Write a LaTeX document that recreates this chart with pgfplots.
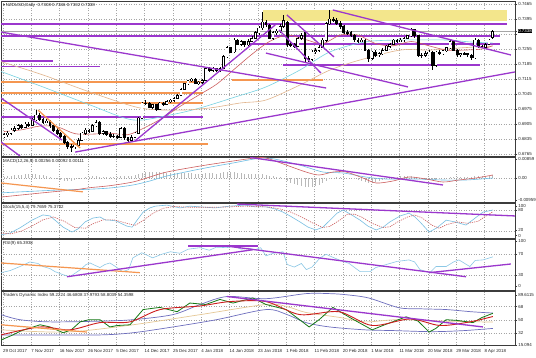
\documentclass[border=0pt]{standalone}
\usepackage{pgfplots}
\pgfplotsset{compat=1.18}
\usepackage{pgfplotstable}
\usepackage{fontspec}
\setmainfont{Liberation Sans}
\setsansfont{Liberation Sans}
\newfontfamily\symfont{DejaVu Sans}

\definecolor{purp}{RGB}{155,55,205}
\definecolor{orng}{RGB}{245,150,80}
\definecolor{zone}{RGB}{243,230,140}
\definecolor{maCyan}{RGB}{120,210,225}
\definecolor{maTan}{RGB}{225,180,140}
\definecolor{maRed}{RGB}{205,95,95}
\definecolor{gridc}{RGB}{165,165,165}
\definecolor{frame}{RGB}{60,60,60}
\definecolor{tdiBand}{RGB}{110,110,190}
\definecolor{tdiMid}{RGB}{230,200,150}
\definecolor{tdiGreen}{RGB}{20,120,20}
\definecolor{tdiRed}{RGB}{205,30,30}
\definecolor{histc}{RGB}{185,185,185}
\definecolor{stochc}{RGB}{120,190,225}
\definecolor{rsic}{RGB}{140,200,230}

\pgfplotstableread{
i o h l c
0 0.6848 0.6862 0.6838 0.6854
1 0.6854 0.6872 0.6846 0.6863
2 0.6863 0.6885 0.6855 0.6877
3 0.6877 0.6895 0.6868 0.6886
4 0.6886 0.6905 0.6878 0.6896
5 0.6896 0.6906 0.6882 0.6891
6 0.6891 0.6914 0.6885 0.6905
7 0.6905 0.6916 0.6893 0.6900
8 0.6900 0.6935 0.6895 0.6924
9 0.6924 0.6970 0.6918 0.6947
10 0.6947 0.6955 0.6917 0.6924
11 0.6924 0.6932 0.6905 0.6914
12 0.6914 0.6930 0.6908 0.6919
13 0.6919 0.6925 0.6888 0.6896
14 0.6896 0.6902 0.6870 0.6877
15 0.6877 0.6885 0.6855 0.6863
16 0.6863 0.6870 0.6842 0.6849
17 0.6849 0.6855 0.6812 0.6821
18 0.6821 0.6828 0.6790 0.6802
19 0.6802 0.6812 0.6774 0.6798
20 0.6798 0.6815 0.6790 0.6807
21 0.6807 0.6838 0.6800 0.6830
22 0.6830 0.6870 0.6825 0.6863
23 0.6863 0.6885 0.6855 0.6877
24 0.6877 0.6884 0.6865 0.6872
25 0.6872 0.6903 0.6866 0.6896
26 0.6896 0.6924 0.6890 0.6914
27 0.6914 0.6918 0.6856 0.6863
28 0.6863 0.6875 0.6852 0.6868
29 0.6868 0.6874 0.6850 0.6858
30 0.6858 0.6866 0.6842 0.6849
31 0.6849 0.6858 0.6840 0.6849
32 0.6849 0.6855 0.6836 0.6844
33 0.6844 0.6893 0.6840 0.6886
34 0.6886 0.6890 0.6832 0.6840
35 0.6840 0.6846 0.6818 0.6830
36 0.6830 0.6852 0.6822 0.6844
37 0.6844 0.6870 0.6838 0.6863
38 0.6863 0.6940 0.6858 0.6933
39 0.6933 0.7010 0.6928 0.7003
40 0.7003 0.7015 0.6993 0.7003
41 0.7003 0.7010 0.6978 0.6984
42 0.6984 0.7000 0.6976 0.6994
43 0.6994 0.7000 0.6968 0.6975
44 0.6975 0.7010 0.6970 0.7003
45 0.7003 0.7010 0.6990 0.6998
46 0.6998 0.7018 0.6992 0.7012
47 0.7012 0.7024 0.7005 0.7017
48 0.7017 0.7032 0.7010 0.7026
49 0.7026 0.7046 0.7020 0.7040
50 0.7040 0.7075 0.7035 0.7068
51 0.7068 0.7098 0.7062 0.7092
52 0.7092 0.7112 0.7085 0.7106
53 0.7106 0.7122 0.7100 0.7115
54 0.7115 0.7120 0.7090 0.7096
55 0.7096 0.7108 0.7088 0.7101
56 0.7101 0.7116 0.7094 0.7110
57 0.7110 0.7168 0.7105 0.7162
58 0.7162 0.7172 0.7150 0.7157
59 0.7157 0.7170 0.7150 0.7162
60 0.7162 0.7168 0.7148 0.7157
61 0.7157 0.7172 0.7150 0.7166
62 0.7166 0.7225 0.7160 0.7218
63 0.7218 0.7268 0.7212 0.7260
64 0.7260 0.7266 0.7235 0.7241
65 0.7241 0.7305 0.7236 0.7297
66 0.7297 0.7304 0.7272 0.7278
67 0.7278 0.7296 0.7270 0.7288
68 0.7288 0.7294 0.7266 0.7274
69 0.7274 0.7300 0.7268 0.7292
70 0.7292 0.7315 0.7286 0.7306
71 0.7306 0.7338 0.7300 0.7330
72 0.7330 0.7362 0.7322 0.7353
73 0.7353 0.7428 0.7345 0.7381
74 0.7381 0.7392 0.7360 0.7367
75 0.7367 0.7372 0.7300 0.7306
76 0.7306 0.7338 0.7298 0.7330
77 0.7330 0.7348 0.7322 0.7339
78 0.7339 0.7370 0.7332 0.7362
79 0.7362 0.7414 0.7355 0.7390
80 0.7381 0.7388 0.7265 0.7274
81 0.7274 0.7290 0.7266 0.7278
82 0.7278 0.7285 0.7260 0.7269
83 0.7269 0.7312 0.7264 0.7306
84 0.7306 0.7330 0.7298 0.7320
85 0.7330 0.7336 0.7194 0.7213
86 0.7213 0.7222 0.7194 0.7208
87 0.7208 0.7250 0.7200 0.7241
88 0.7241 0.7258 0.7234 0.7250
89 0.7250 0.7272 0.7242 0.7264
90 0.7264 0.7305 0.7258 0.7297
91 0.7297 0.7380 0.7290 0.7372
92 0.7372 0.7437 0.7366 0.7395
93 0.7395 0.7405 0.7380 0.7390
94 0.7390 0.7398 0.7368 0.7376
95 0.7376 0.7384 0.7350 0.7358
96 0.7358 0.7365 0.7326 0.7334
97 0.7334 0.7342 0.7322 0.7330
98 0.7330 0.7338 0.7312 0.7320
99 0.7320 0.7326 0.7290 0.7297
100 0.7297 0.7305 0.7285 0.7292
101 0.7292 0.7306 0.7286 0.7297
102 0.7297 0.7302 0.7244 0.7250
103 0.7250 0.7256 0.7194 0.7213
104 0.7213 0.7248 0.7206 0.7241
105 0.7241 0.7250 0.7220 0.7227
106 0.7227 0.7240 0.7220 0.7232
107 0.7232 0.7258 0.7226 0.7250
108 0.7250 0.7276 0.7244 0.7269
109 0.7269 0.7285 0.7262 0.7278
110 0.7278 0.7304 0.7272 0.7297
111 0.7297 0.7302 0.7284 0.7292
112 0.7292 0.7305 0.7286 0.7297
113 0.7297 0.7312 0.7290 0.7306
114 0.7306 0.7322 0.7300 0.7316
115 0.7316 0.7353 0.7310 0.7344
116 0.7344 0.7350 0.7308 0.7316
117 0.7316 0.7322 0.7220 0.7227
118 0.7227 0.7236 0.7215 0.7227
119 0.7227 0.7244 0.7220 0.7236
120 0.7236 0.7250 0.7230 0.7241
121 0.7241 0.7246 0.7157 0.7180
122 0.7180 0.7248 0.7172 0.7241
123 0.7241 0.7250 0.7225 0.7232
124 0.7232 0.7252 0.7226 0.7246
125 0.7246 0.7266 0.7240 0.7260
126 0.7260 0.7296 0.7254 0.7288
127 0.7288 0.7294 0.7244 0.7250
128 0.7250 0.7256 0.7220 0.7227
129 0.7227 0.7238 0.7220 0.7232
130 0.7232 0.7240 0.7225 0.7232
131 0.7232 0.7238 0.7220 0.7227
132 0.7227 0.7232 0.7205 0.7213
133 0.7213 0.7305 0.7208 0.7297
134 0.7297 0.7302 0.7262 0.7269
135 0.7269 0.7276 0.7258 0.7264
136 0.7264 0.7284 0.7258 0.7278
137 0.7278 0.7304 0.7272 0.7297
138 0.7308 0.7346 0.7302 0.7338
}\candles

\pgfplotstableread{
i v
0 0.0004
1 0.0008
2 0.0008
3 0.0012
4 0.0012
5 0.0012
6 0.0016
7 0.0016
8 0.0016
9 0.0016
10 0.0012
11 0.0012
12 0.0008
13 0.0004
14 0.0000
15 -0.0004
16 -0.0008
17 -0.0012
18 -0.0012
19 -0.0012
20 -0.0008
21 -0.0004
22 0.0000
23 0.0004
24 0.0004
25 0.0008
26 0.0008
27 0.0004
28 0.0004
29 0.0004
30 0.0004
31 0.0004
32 0.0004
33 0.0008
34 0.0008
35 0.0008
36 0.0008
37 0.0012
38 0.0016
39 0.0020
40 0.0024
41 0.0024
42 0.0024
43 0.0024
44 0.0024
45 0.0024
46 0.0020
47 0.0020
48 0.0020
49 0.0020
50 0.0020
51 0.0020
52 0.0020
53 0.0020
54 0.0016
55 0.0016
56 0.0016
57 0.0020
58 0.0020
59 0.0020
60 0.0016
61 0.0020
62 0.0024
63 0.0024
64 0.0024
65 0.0024
66 0.0020
67 0.0020
68 0.0016
69 0.0016
70 0.0016
71 0.0016
72 0.0016
73 0.0016
74 0.0012
75 0.0008
76 0.0008
77 0.0004
78 0.0004
79 0.0000
80 -0.0012
81 -0.0020
82 -0.0024
83 -0.0028
84 -0.0032
85 -0.0036
86 -0.0036
87 -0.0036
88 -0.0032
89 -0.0028
90 -0.0020
91 -0.0012
92 -0.0004
93 0.0000
94 0.0004
95 0.0004
96 0.0004
97 0.0000
98 0.0000
99 -0.0004
100 -0.0008
101 -0.0012
102 -0.0016
103 -0.0020
104 -0.0020
105 -0.0016
106 -0.0012
107 -0.0008
108 -0.0004
109 0.0000
110 0.0004
111 0.0004
112 0.0008
113 0.0008
114 0.0008
115 0.0008
116 0.0004
117 0.0000
118 -0.0004
119 -0.0008
120 -0.0008
121 -0.0008
122 -0.0008
123 -0.0004
124 0.0000
125 0.0000
126 0.0004
127 0.0004
128 0.0004
129 0.0004
130 0.0004
131 0.0004
132 0.0004
133 0.0008
134 0.0008
135 0.0008
136 0.0008
137 0.0008
138 0.0012
}\macdhist

\pgfplotsset{
  panel/.style={
    scale only axis, width=514bp,
    xmin=-0.85, xmax=144.35,
    axis line style={frame, line width=0.9bp},
    xtick={-0.3,7.7,15.7,23.7,31.7,39.7,47.7,55.7,63.7,71.7,79.7,87.7,95.7,103.7,111.7,119.7,127.7,135.7},
    xticklabels={},
    xmajorgrids,
    major grid style={gridc, line width=0.4bp, dash pattern=on 1bp off 1.5bp},
    xtick style={draw=none},
    ytick pos=right, yticklabel pos=right,
    ytick style={frame, line width=0.4bp},
    major tick length=2bp, tick align=outside,
    tick label style={font=\fontsize{4.4}{5}\selectfont, text=black!85},
    yticklabel style={inner sep=0.6bp, xshift=0.6bp},
    scaled y ticks=false, scaled x ticks=false,
    /pgf/number format/assume math mode=true,
  },
  lvl/.style={line width=1.5bp},
  tl/.style={line width=1.3bp, purp},
}
\tikzset{ttl/.style={anchor=north west, inner sep=0pt, font=\fontsize{4.4}{5}\selectfont, text=black!85}}

\begin{document}
\begin{tikzpicture}
\useasboundingbox (0,0) rectangle (536bp,-358bp);
\fill[white] (0,0) rectangle (536bp,-358bp);

% ===================== MAIN PRICE PANEL =====================
\begin{axis}[panel, at={(1bp,-1bp)}, anchor=north west, height=155bp,
  ymin=0.67557, ymax=0.74790, ymajorgrids,
  ytick={0.6765,0.6835,0.6905,0.6975,0.7045,0.7115,0.7185,0.7255,0.7325,0.7395,0.7465},
  yticklabels={0.6765,0.6835,0.6905,0.6975,0.7045,0.7115,0.7185,0.7255,,0.7395,0.7465},
  extra y ticks={0.7338}, extra y tick labels={0.7338},
  extra y tick style={grid=none, yticklabel style={fill=black, text=white, inner sep=0.5bp}},
]
\addplot[fill=zone, draw=none] coordinates {(73.2,0.7435) (142.1,0.7435) (142.1,0.7385) (73.2,0.7385)} --cycle;
\addplot[gray!70, line width=0.5bp] coordinates {(-0.85,0.7338) (144.35,0.7338)};
\addplot[purp, lvl] coordinates {(-0.85,0.7372) (142.1,0.7372)};
\addplot[purp, lvl] coordinates {(-0.85,0.7316) (140.1,0.7316)};
\addplot[purp, lvl] coordinates {(69.5,0.7278) (140.1,0.7278)};
\addplot[purp, lvl] coordinates {(78.8,0.7180) (134.5,0.7180)};
\addplot[purp, lvl] coordinates {(-0.85,0.7199) (13.8,0.7199)};
\addplot[purp, lvl] coordinates {(-0.85,0.7174) (27.1,0.7174)};
\addplot[orng, lvl] coordinates {(-0.85,0.7101) (56.2,0.7101)};
\addplot[orng, lvl] coordinates {(-0.85,0.7050) (56.2,0.7050)};
\addplot[orng, lvl] coordinates {(-0.85,0.7003) (56.2,0.7003)};
\addplot[purp, lvl] coordinates {(-0.85,0.6938) (56.2,0.6938)};
\addplot[orng, lvl] coordinates {(-0.85,0.6812) (57.6,0.6812)};
\addplot[orng, lvl] coordinates {(64.4,0.7110) (90.1,0.7110)};
\addplot[maCyan, line width=0.6bp, smooth] coordinates {(-0.85,0.7150) (11,0.7078) (24.3,0.6994) (36.4,0.6924) (46.9,0.6947) (55.4,0.6980) (65.3,0.7031) (74,0.7078) (83.6,0.7157) (92,0.7241) (102,0.7288) (112,0.7297) (125,0.7297) (131.6,0.7288) (138,0.7283)};
\addplot[maTan, line width=0.6bp, smooth] coordinates {(-0.85,0.7196) (11,0.7134) (24.3,0.7054) (38.4,0.6980) (49.7,0.6970) (58.2,0.6980) (66.7,0.7003) (74,0.7017) (83.6,0.7087) (92.1,0.7157) (100.6,0.7204) (111.9,0.7250) (120.3,0.7250) (128.8,0.7260) (138,0.7269)};
\addplot[maRed, line width=0.6bp, smooth] coordinates {(0,0.6870) (5,0.6878) (10,0.6895) (15,0.6892) (20,0.6860) (25,0.6858) (30,0.6862) (35,0.6855) (40,0.6890) (45,0.6935) (50,0.6990) (55,0.7040) (60,0.7090) (65,0.7160) (70,0.7230) (75,0.7290) (80,0.7320) (85,0.7300) (90,0.7280) (95,0.7320) (100,0.7320) (105,0.7280) (110,0.7270) (115,0.7290) (120,0.7270) (125,0.7250) (130,0.7250) (135,0.7255) (138,0.7270)};
\addplot[draw=none, mark=none, error bars/.cd, y dir=both, y explicit, error mark=none,
  error bar style={draw=black, line width=0.6bp}]
  table[x=i, y expr={(\thisrow{h}+\thisrow{l})/2}, y error expr={(\thisrow{h}-\thisrow{l})/2}] {\candles};
\addplot[draw=none, mark=none, error bars/.cd, y dir=both, y explicit, error mark=none,
  error bar style={draw=black, line width=2.8bp}]
  table[x=i, y expr={(\thisrow{o}+\thisrow{c})/2}, y error expr={abs(\thisrow{c}-\thisrow{o})/2+0.00023}] {\candles};
\addplot[draw=none, mark=none, error bars/.cd, y dir=both, y explicit, error mark=none,
  error bar style={draw=white, line width=1.5bp}]
  table[x=i, y expr={(\thisrow{o}+\thisrow{c})/2}, y error expr={(\thisrow{c}>\thisrow{o})*max((\thisrow{c}-\thisrow{o})/2-0.00020,0)}] {\candles};
\addplot[tl] coordinates {(-0.85,0.7334) (91.0,0.7073)};
\addplot[tl] coordinates {(37.0,0.6826) (76.6,0.7367)};
\addplot[tl] coordinates {(20.1,0.6774) (144.35,0.7148)};
\addplot[tl] coordinates {(-0.85,0.7026) (16.4,0.6830)};
\addplot[tl] coordinates {(-0.85,0.6821) (4.5,0.6756)};
\addplot[orng, line width=1.3bp] coordinates {(9.6,0.6970) (21.5,0.6793)};
\addplot[tl] coordinates {(92.9,0.7437) (143.2,0.7227)};
\addplot[tl] coordinates {(74.0,0.7236) (114.1,0.7078)};
\addplot[tl] coordinates {(79.9,0.7414) (93.2,0.7218)};
\addplot[tl] coordinates {(77.7,0.7344) (89.5,0.7143)};
\node[ttl, xshift=2bp, yshift=-2.5bp] at (rel axis cs:0,1) {{\symfont\fontsize{4}{5}\selectfont ▾}\,NZDUSD,Daily\ \ 0.7308 0.7346 0.7302 0.7338};
\node[anchor=west, inner sep=0.6bp, xshift=2.6bp, font=\fontsize{4.4}{5}\selectfont, text=black!85] at (axis cs:144.35,0.73165) {0.7325};
\end{axis}

% ===================== MACD =====================
\begin{axis}[panel, at={(1bp,-157bp)}, anchor=north west, height=45bp,
  ymin=-0.00959, ymax=0.00859,
  ytick={0.0078,0,-0.0088}, yticklabels={0.00859,0.00,-0.00959},
  extra y ticks={0}, extra y tick labels={}, extra y tick style={grid=major, major tick length=0pt},
]
\addplot[ycomb, histc, line width=0.8bp] table[x=i, y=v] {\macdhist};
\addplot[maCyan!90!blue, line width=0.6bp, smooth] coordinates {(-0.85,-0.00590) (7.3,-0.00530) (15.8,-0.00474) (22.3,-0.00454) (29.9,-0.00393) (36.4,-0.00272) (41.2,-0.0011) (46.0,0.00091) (55.4,0.00374) (64.7,0.00617) (74.0,0.00819) (83.4,0.00536) (90.1,0.00253) (95.8,0.00213) (102.2,0.00051) (107.9,-0.0003) (116.4,-0.0003) (124.0,-0.0007) (130.5,-0.0007) (138.1,0.00011)};
\addplot[maRed, line width=0.6bp, smooth] coordinates {(-0.85,-0.00760) (7.3,-0.00640) (15.8,-0.00520) (20.3,-0.00460) (24.3,-0.00380) (29.9,-0.00300) (36.4,-0.00151) (41.2,0.00051) (46.0,0.00253) (55.4,0.00495) (64.7,0.00697) (70.9,0.00819) (74.0,0.00819) (79.7,0.00536) (85.3,0.00253) (89.0,0.00132) (93.0,0.00253) (96.6,0.00253) (101.4,0.00011) (105.1,-0.00191) (109.9,-0.0011) (114.4,0.00051) (119.2,-0.0003) (124.0,-0.00151) (128.5,-0.0007) (133.3,0.00011) (138.1,0.00132)};
\addplot[orng, line width=1.2bp] coordinates {(-0.85,-0.0019) (22.3,-0.0055)};
\addplot[tl] coordinates {(69.5,0.0084) (124.0,-0.00272)};
\node[ttl, xshift=2bp, yshift=-2.5bp] at (rel axis cs:0,1) {MACD(12,26,9) 0.00256 0.00092 0.00111};
\end{axis}

% ===================== STOCHASTIC =====================
\begin{axis}[panel, at={(1bp,-203bp)}, anchor=north west, height=35bp,
  ymin=0, ymax=100,
  ytick={91,80,23,7}, yticklabels={100,80,20,0},
  extra y ticks={80,20}, extra y tick labels={}, extra y tick style={grid=major, major tick length=0pt},
]
\addplot[stochc, line width=0.6bp] coordinates {(-0.85,9) (1.7,14) (4.5,29) (7.9,51) (11.0,66) (13.0,63) (14.4,51) (16.7,31) (19.2,17) (20.9,26) (22.9,46) (25.1,57) (27.1,60) (28.8,51) (29.9,51) (31.6,49) (32.8,43) (34.7,34) (36.2,31) (37.6,51) (39.3,74) (41.2,86) (42.7,91) (46.0,94) (49.7,86) (52.5,91) (55.4,89) (59.6,86) (63.8,91) (68.1,94) (70.9,89) (74.0,89) (76.6,83) (78.8,74) (80.8,63) (83.6,46) (85.9,31) (88.1,23) (90.1,31) (92.1,51) (94.1,71) (95.8,80) (97.7,69) (100.6,51) (102.8,34) (105.1,23) (107.1,31) (109.0,46) (111.9,63) (114.4,71) (116.1,60) (117.5,46) (120.1,17) (122.3,29) (124.9,51) (127.4,46) (130.5,37) (133.1,57) (135.3,74) (138.1,80)};
\addplot[maRed, line width=0.6bp, dash pattern=on 1.2bp off 1bp] coordinates {(-0.85,14) (2,12) (5,20) (8,35) (11,52) (14,60) (17,48) (20,30) (23,28) (25,40) (28,52) (31,52) (34,44) (37,36) (39,48) (42,70) (45,85) (48,90) (52,88) (56,88) (60,88) (64,89) (68,91) (72,90) (75,88) (78,83) (81,74) (84,60) (87,44) (90,30) (92,33) (95,52) (97,68) (99,68) (101,60) (104,42) (107,30) (109,32) (111,45) (114,60) (116,66) (118,58) (121,36) (123,28) (125,38) (128,46) (131,42) (134,48) (136,62) (138.1,75)};
\addplot[tl] coordinates {(65.8,97) (144.35,63)};
\node[ttl, xshift=2bp, yshift=-2.5bp] at (rel axis cs:0,1) {Stoch(15,5,4) 79.7659 75.3702};
\end{axis}

% ===================== RSI =====================
\begin{axis}[panel, at={(1bp,-239bp)}, anchor=north west, height=51bp,
  ymin=0, ymax=100,
  ytick={96,70,30,7}, yticklabels={100,70,30,0},
  extra y ticks={70,30}, extra y tick labels={}, extra y tick style={grid=major, major tick length=0pt},
]
\addplot[rsic, line width=0.6bp] coordinates {(-0.85,34) (1.7,38) (4.5,46) (7.3,55) (9.6,52) (11,46) (13,42) (14.4,36) (16.7,30) (18.6,26) (20.1,33) (21.6,40) (23.2,50) (24.3,53) (25.8,48) (27.1,44) (28.5,50) (29.9,53) (31.5,46) (33.5,36) (35.2,40) (36.4,63) (38.9,73) (40.5,68) (42.0,63) (44.5,70) (47.0,75) (49.7,72) (52.0,80) (55.4,83) (58.0,78) (60.0,84) (62.9,83) (65.0,86) (67.0,80) (69.0,82) (70.9,79) (72.5,83) (74.0,67) (76.0,72) (78.8,75) (80.0,50) (82.0,45) (84.0,52) (85.4,40) (87.0,45) (89.3,63) (91.0,70) (92.6,65) (95.0,58) (97.5,52) (100.6,36) (103.4,36) (105.0,44) (108.0,50) (111.0,56) (114.4,59) (116.0,55) (117.5,40) (120.3,34) (122.0,46) (124.9,46) (127.0,55) (128.5,59) (131.6,46) (133.1,58) (135.3,59) (138.1,65)};
\addplot[orng, line width=1.2bp] coordinates {(-0.85,53) (38.4,34)};
\addplot[tl] coordinates {(17.8,26) (70.3,79)};
\addplot[tl] coordinates {(52.0,86) (71.8,86)};
\addplot[tl] coordinates {(63.0,86) (130.5,26)};
\addplot[tl] coordinates {(120.1,34) (143.2,51)};
\node[ttl, xshift=2bp, yshift=-2.5bp] at (rel axis cs:0,1) {RSI(9) 65.3938};
\end{axis}

% ===================== TDI =====================
\begin{axis}[panel, at={(1bp,-291bp)}, anchor=north west, height=54bp,
  ymin=15.094, ymax=89.6115,
  ytick={84.5,68,50,32,15.094}, yticklabels={89.6115,68,50,32,15.094},
  extra y ticks={68,50,32}, extra y tick labels={}, extra y tick style={grid=major, major tick length=0pt},
  xticklabels={29 Oct 2017,7 Nov 2017,16 Nov 2017,26 Nov 2017,5 Dec 2017,14 Dec 2017,25 Dec 2017,4 Jan 2018,14 Jan 2018,23 Jan 2018,1 Feb 2018,11 Feb 2018,20 Feb 2018,1 Mar 2018,11 Mar 2018,20 Mar 2018,29 Mar 2018,8 Apr 2018},
  xticklabel style={anchor=north west, inner sep=0pt, yshift=-2.5bp},
]
\addplot[tdiBand, line width=0.7bp, smooth] coordinates {(-0.85,57) (4.5,50) (13,47) (27,48) (36.4,50) (47.7,57) (55.4,71) (63,82) (74,79) (85.3,86) (92,86) (96.6,84.5) (103,80) (111.6,66.5) (118,65) (125,64) (132,61) (138.1,59.2)};
\addplot[tdiBand, line width=0.7bp, smooth] coordinates {(-0.85,29) (9,29) (27,29) (36.4,32) (47.7,40) (60,50) (74,64) (80,57) (85.3,46) (92,40) (102,36) (110,35) (121,33.5) (130,35) (138.1,38)};
\addplot[tdiMid, line width=0.7bp, smooth] coordinates {(-0.85,36) (17.8,33) (36.4,43) (55.4,57) (74,71) (80,68) (85.3,60) (95,53) (102,47) (111,50) (125,48) (138.1,46.7)};
\addplot[tdiGreen, line width=0.8bp] coordinates {(-0.85,22) (2.5,29) (5,35) (10.2,43) (13,40) (16.7,32) (19,36) (21.5,47) (24,50) (27.1,50) (29.9,40) (32,42) (35.6,43) (39.3,64) (44,67) (48.9,61) (52.5,73) (57,71) (61,78) (64.7,73) (70.3,80) (74,71) (79.7,64) (86.2,40) (89,50) (92.9,67) (97.7,53) (104,36) (107,42) (113.6,54) (117,48) (120.1,33) (122,38) (124.9,50) (128,49) (132.5,46) (135,53) (138.1,58.8)};
\addplot[tdiRed, line width=0.9bp, smooth] coordinates {(-0.85,29) (10.2,40) (18.6,36) (27.1,46) (35.6,47) (44.1,64) (55.4,69) (63.8,75) (74,75) (83.6,57) (94.6,61) (104,42) (114.7,51) (123.2,42) (131.6,47) (138.1,54.4)};
\addplot[tl] coordinates {(63.0,82) (135.3,40)};
\addplot[orng, line width=1.2bp] coordinates {(-0.85,43) (23.4,33)};
\node[ttl, xshift=2bp, yshift=-2.5bp] at (rel axis cs:0,1) {Traders Dynamic Index 59.2224 46.6808 37.9793 58.8039 54.3598};
\end{axis}
\end{tikzpicture}
\end{document}
